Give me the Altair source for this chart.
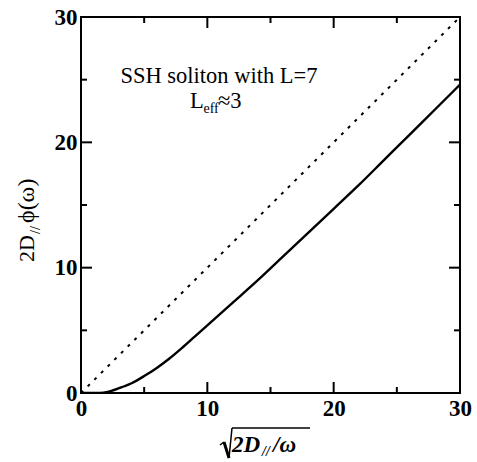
import altair as alt
import pandas as pd

# ---- data ----
x_vals = [0, 1, 1.5, 2, 2.5, 3, 4, 5, 6, 7, 8, 9, 10, 12, 14, 16, 18, 20, 22, 24, 26, 28, 30]
y_vals = [0, 0, 0.01, 0.06, 0.2, 0.38, 0.78, 1.35, 2.0, 2.75, 3.6, 4.5, 5.4, 7.2, 9.0, 10.9, 12.8, 14.7, 16.6, 18.6, 20.6, 22.6, 24.6]
ref_x = [0, 30]
ref_y = [0, 30]
major_ticks = [0, 10, 20, 30]
minor_ticks = [5, 15, 25]
note_line1 = "SSH soliton with L=7"
note_L = "L"
note_sub = "eff"
note_rest = "≈3"

W, H = 379, 376
FONT = "Liberation Serif"

curve = pd.DataFrame({"x": x_vals, "y": y_vals})
ref = pd.DataFrame({"x": ref_x, "y": ref_y})
maj = pd.DataFrame({"t": major_ticks})
mnr = pd.DataFrame({"t": minor_ticks})

xs = alt.Scale(domain=[0, 30], nice=False, zero=False)
ys = alt.Scale(domain=[0, 30], nice=False, zero=False)

axis_x = alt.Axis(values=major_ticks, format="d", labelFont=FONT, labelFontSize=23,
                  labelFontWeight="bold", labelColor="black", labelPadding=4,
                  labelFlush=False, labelOverlap=False, ticks=False, domain=False,
                  grid=False, title=None)
axis_y = alt.Axis(values=major_ticks, format="d", labelFont=FONT, labelFontSize=23,
                  labelFontWeight="bold", labelColor="black", labelPadding=4,
                  labelFlush=False, labelOverlap=False, ticks=False, domain=False,
                  grid=False, title=None)

main = alt.Chart(curve).mark_line(color="black", strokeWidth=2.4, clip=True,
                                  interpolate="monotone").encode(
    x=alt.X("x:Q", scale=xs, axis=axis_x),
    y=alt.Y("y:Q", scale=ys, axis=axis_y),
)
dotted = alt.Chart(ref).mark_line(color="black", strokeWidth=2, strokeDash=[3, 6.4]).encode(
    x=alt.X("x:Q", scale=xs, title=None),
    y=alt.Y("y:Q", scale=ys, title=None),
)

def xticks(df, length):
    bottom = alt.Chart(df).mark_rule(color="black", strokeWidth=2).encode(
        x=alt.X("t:Q", scale=xs, title=None), y=alt.value(H), y2=alt.value(H - length))
    top = alt.Chart(df).mark_rule(color="black", strokeWidth=2).encode(
        x=alt.X("t:Q", scale=xs, title=None), y=alt.value(0), y2=alt.value(length))
    return [bottom, top]

def yticks(df, length):
    left = alt.Chart(df).mark_rule(color="black", strokeWidth=2).encode(
        y=alt.Y("t:Q", scale=ys, title=None), x=alt.value(0), x2=alt.value(length))
    right = alt.Chart(df).mark_rule(color="black", strokeWidth=2).encode(
        y=alt.Y("t:Q", scale=ys, title=None), x=alt.value(W), x2=alt.value(W - length))
    return [left, right]

tick_layers = xticks(maj, 11) + xticks(mnr, 6) + yticks(maj, 11) + yticks(mnr, 6)

def txt(s, x, y, size, align="left", baseline="alphabetic", angle=0, weight="normal", style="normal"):
    return alt.Chart(pd.DataFrame({"s": [s]})).mark_text(
        font=FONT, fontSize=size, align=align, baseline=baseline, angle=angle,
        fontWeight=weight, fontStyle=style, color="black"
    ).encode(x=alt.value(x), y=alt.value(y), text="s:N")

texts = [
    txt(note_line1, 138, 66, 22.5, align="center"),
    txt(note_L, 109, 91, 22.5),
    txt(note_sub, 122.5, 96, 14),
    txt(note_rest, 137, 91, 22.5),
    # y title pieces (rotated)
    txt("2D", -54, 245, 22, baseline="middle", angle=270),
    txt("//", -45, 217, 14, baseline="middle", angle=270),
    txt("ϕ(ω)", -54, 206, 24, baseline="middle", angle=270),
    # x title pieces
    txt("2D", 151, 435, 23, weight="bold", style="italic"),
    txt("//", 181, 439, 14, weight="bold", style="italic"),
    txt("/ω", 192, 435, 23, weight="bold", style="italic"),
]

def seg(x1, y1, x2, y2, w):
    return alt.Chart(pd.DataFrame({"s": [0]})).mark_rule(color="black", strokeWidth=w).encode(
        x=alt.value(x1), y=alt.value(y1), x2=alt.value(x2), y2=alt.value(y2))

radical = [
    seg(139, 428, 143, 425, 1.5),
    seg(143, 425, 148, 441, 3),
    seg(148, 441, 151, 411, 1.5),
    seg(151, 411, 229, 411, 1.5),
]

chart = alt.layer(main, dotted, *tick_layers, *texts, *radical).properties(
    width=W, height=H,
    autosize=alt.AutoSizeParams(type="none"),
    padding={"left": 81, "top": 17, "right": 17, "bottom": 69},
    background="white",
).configure_view(stroke="black", strokeWidth=2)

chart.save("out.html", embed_options={"renderer": "svg", "actions": False})
